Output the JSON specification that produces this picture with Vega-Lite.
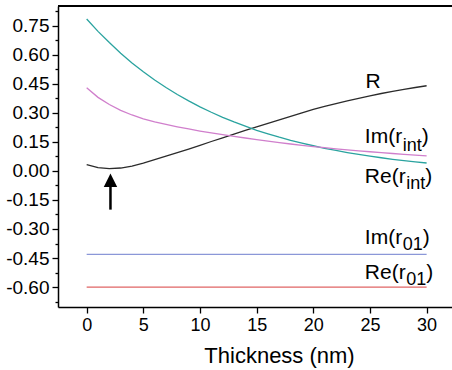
{
  "$schema": "https://vega.github.io/schema/vega-lite/v6.json",
  "width": 394,
  "height": 301,
  "autosize": {"type": "none"},
  "padding": {"left": 58, "top": 6, "right": 0, "bottom": 63},
  "background": "white",
  "config": {
    "view": {"stroke": null},
    "font": "Liberation Sans",
    "axis": {"grid": false, "domainColor": "black", "domainWidth": 1.5, "tickColor": "black", "tickWidth": 1.3, "labelColor": "black", "titleColor": "black", "labelFont": "Liberation Sans", "titleFont": "Liberation Sans", "titleFontWeight": "normal", "labelOverlap": false}
  },
  "resolve": {"axis": {"y": "independent"}},
  "datasets": {
    "curves": [
      {"x": 0, "v": 0.033, "s": "R"}, {"x": 1, "v": 0.017, "s": "R"}, {"x": 2, "v": 0.012, "s": "R"}, {"x": 3, "v": 0.015, "s": "R"}, {"x": 4, "v": 0.025, "s": "R"}, {"x": 5, "v": 0.040, "s": "R"}, {"x": 6, "v": 0.058, "s": "R"}, {"x": 7, "v": 0.076, "s": "R"}, {"x": 8, "v": 0.095, "s": "R"}, {"x": 9, "v": 0.113, "s": "R"}, {"x": 10, "v": 0.132, "s": "R"}, {"x": 11, "v": 0.152, "s": "R"}, {"x": 12, "v": 0.171, "s": "R"}, {"x": 13, "v": 0.190, "s": "R"}, {"x": 14, "v": 0.209, "s": "R"}, {"x": 15, "v": 0.228, "s": "R"}, {"x": 16, "v": 0.246, "s": "R"}, {"x": 17, "v": 0.264, "s": "R"}, {"x": 18, "v": 0.282, "s": "R"}, {"x": 19, "v": 0.300, "s": "R"}, {"x": 20, "v": 0.318, "s": "R"}, {"x": 21, "v": 0.333, "s": "R"}, {"x": 22, "v": 0.348, "s": "R"}, {"x": 23, "v": 0.362, "s": "R"}, {"x": 24, "v": 0.375, "s": "R"}, {"x": 25, "v": 0.388, "s": "R"}, {"x": 26, "v": 0.400, "s": "R"}, {"x": 27, "v": 0.411, "s": "R"}, {"x": 28, "v": 0.421, "s": "R"}, {"x": 29, "v": 0.431, "s": "R"}, {"x": 30, "v": 0.440, "s": "R"},
      {"x": 0, "v": 0.785, "s": "Re(r_int)"}, {"x": 1, "v": 0.721, "s": "Re(r_int)"}, {"x": 2, "v": 0.663, "s": "Re(r_int)"}, {"x": 3, "v": 0.608, "s": "Re(r_int)"}, {"x": 4, "v": 0.558, "s": "Re(r_int)"}, {"x": 5, "v": 0.512, "s": "Re(r_int)"}, {"x": 6, "v": 0.470, "s": "Re(r_int)"}, {"x": 7, "v": 0.431, "s": "Re(r_int)"}, {"x": 8, "v": 0.395, "s": "Re(r_int)"}, {"x": 9, "v": 0.362, "s": "Re(r_int)"}, {"x": 10, "v": 0.331, "s": "Re(r_int)"}, {"x": 11, "v": 0.303, "s": "Re(r_int)"}, {"x": 12, "v": 0.277, "s": "Re(r_int)"}, {"x": 13, "v": 0.253, "s": "Re(r_int)"}, {"x": 14, "v": 0.231, "s": "Re(r_int)"}, {"x": 15, "v": 0.210, "s": "Re(r_int)"}, {"x": 16, "v": 0.192, "s": "Re(r_int)"}, {"x": 17, "v": 0.174, "s": "Re(r_int)"}, {"x": 18, "v": 0.158, "s": "Re(r_int)"}, {"x": 19, "v": 0.144, "s": "Re(r_int)"}, {"x": 20, "v": 0.130, "s": "Re(r_int)"}, {"x": 21, "v": 0.117, "s": "Re(r_int)"}, {"x": 22, "v": 0.106, "s": "Re(r_int)"}, {"x": 23, "v": 0.095, "s": "Re(r_int)"}, {"x": 24, "v": 0.085, "s": "Re(r_int)"}, {"x": 25, "v": 0.076, "s": "Re(r_int)"}, {"x": 26, "v": 0.068, "s": "Re(r_int)"}, {"x": 27, "v": 0.060, "s": "Re(r_int)"}, {"x": 28, "v": 0.053, "s": "Re(r_int)"}, {"x": 29, "v": 0.047, "s": "Re(r_int)"}, {"x": 30, "v": 0.041, "s": "Re(r_int)"},
      {"x": 0, "v": 0.430, "s": "Im(r_int)"}, {"x": 1, "v": 0.380, "s": "Im(r_int)"}, {"x": 2, "v": 0.343, "s": "Im(r_int)"}, {"x": 3, "v": 0.313, "s": "Im(r_int)"}, {"x": 4, "v": 0.289, "s": "Im(r_int)"}, {"x": 5, "v": 0.269, "s": "Im(r_int)"}, {"x": 6, "v": 0.253, "s": "Im(r_int)"}, {"x": 7, "v": 0.240, "s": "Im(r_int)"}, {"x": 8, "v": 0.228, "s": "Im(r_int)"}, {"x": 9, "v": 0.217, "s": "Im(r_int)"}, {"x": 10, "v": 0.206, "s": "Im(r_int)"}, {"x": 11, "v": 0.196, "s": "Im(r_int)"}, {"x": 12, "v": 0.187, "s": "Im(r_int)"}, {"x": 13, "v": 0.178, "s": "Im(r_int)"}, {"x": 14, "v": 0.170, "s": "Im(r_int)"}, {"x": 15, "v": 0.162, "s": "Im(r_int)"}, {"x": 16, "v": 0.154, "s": "Im(r_int)"}, {"x": 17, "v": 0.146, "s": "Im(r_int)"}, {"x": 18, "v": 0.139, "s": "Im(r_int)"}, {"x": 19, "v": 0.132, "s": "Im(r_int)"}, {"x": 20, "v": 0.126, "s": "Im(r_int)"}, {"x": 21, "v": 0.120, "s": "Im(r_int)"}, {"x": 22, "v": 0.114, "s": "Im(r_int)"}, {"x": 23, "v": 0.109, "s": "Im(r_int)"}, {"x": 24, "v": 0.104, "s": "Im(r_int)"}, {"x": 25, "v": 0.099, "s": "Im(r_int)"}, {"x": 26, "v": 0.095, "s": "Im(r_int)"}, {"x": 27, "v": 0.090, "s": "Im(r_int)"}, {"x": 28, "v": 0.086, "s": "Im(r_int)"}, {"x": 29, "v": 0.082, "s": "Im(r_int)"}, {"x": 30, "v": 0.078, "s": "Im(r_int)"}
    ],
    "flat": [
      {"x": 0, "v": -0.431, "s": "Im(r01)"}, {"x": 30, "v": -0.431, "s": "Im(r01)"},
      {"x": 0, "v": -0.600, "s": "Re(r01)"}, {"x": 30, "v": -0.600, "s": "Re(r01)"}
    ],
    "labels": [
      {"x": 24.6, "y": 0.429, "t": "R", "k": "main"},
      {"x": 24.55, "y": 0.142, "t": "Im(r", "k": "main"},
      {"x": 27.89, "y": 0.104, "t": "int", "k": "sub"},
      {"x": 29.57, "y": 0.142, "t": ")", "k": "main"},
      {"x": 24.55, "y": -0.062, "t": "Re(r", "k": "main"},
      {"x": 28.2, "y": -0.094, "t": "int", "k": "sub"},
      {"x": 29.88, "y": -0.062, "t": ")", "k": "main"},
      {"x": 24.55, "y": -0.376, "t": "Im(r", "k": "main"},
      {"x": 27.89, "y": -0.407, "t": "01", "k": "sub"},
      {"x": 29.66, "y": -0.376, "t": ")", "k": "main"},
      {"x": 24.55, "y": -0.557, "t": "Re(r", "k": "main"},
      {"x": 28.2, "y": -0.591, "t": "01", "k": "sub"},
      {"x": 29.97, "y": -0.557, "t": ")", "k": "main"}
    ],
    "arrow": [{"x": 2.1, "y": -0.2, "y2": -0.08, "tip": -0.048}]
  },
  "layer": [
    {
      "data": {"name": "curves"},
      "mark": {"type": "line", "strokeWidth": 1.3},
      "encoding": {
        "x": {"field": "x", "type": "quantitative", "scale": {"domain": [-2.53, 32.24], "nice": false, "zero": false},
          "axis": {"values": [0, 2.5, 5, 7.5, 10, 12.5, 15, 17.5, 20, 22.5, 25, 27.5, 30],
            "labelExpr": "datum.value % 5 === 0 ? format(datum.value, 'd') : ''",
            "tickSize": {"condition": {"test": "datum.value % 5 === 0", "value": 6}, "value": 3},
            "labelFontSize": 18, "labelPadding": 3, "labelFlush": false,
            "title": "Thickness (nm)", "titleFontSize": 22, "titleX": 221, "titleY": 55, "titleAlign": "center", "titleBaseline": "alphabetic", "titleAnchor": null}},
        "y": {"field": "v", "type": "quantitative", "scale": {"domain": [-0.703, 0.852], "nice": false, "zero": false},
          "axis": {"orient": "left", "values": [-0.6, -0.45, -0.3, -0.15, 0, 0.15, 0.3, 0.45, 0.6, 0.75],
            "format": ".2f",
            "labelExpr": "replace(datum.label, '\u2212', '-')",
            "tickSize": 6,
            "labelFontSize": 19, "labelPadding": 3, "labelFlush": false, "title": null}},
        "color": {"field": "s", "type": "nominal", "legend": null,
          "scale": {"domain": ["R", "Re(r_int)", "Im(r_int)", "Im(r01)", "Re(r01)"], "range": ["#2b2b2b", "#2aa39f", "#d07fcc", "#8b97d8", "#e06464"]}}
      }
    },
    {
      "data": {"name": "flat"},
      "mark": {"type": "line", "strokeWidth": 1.3},
      "encoding": {
        "x": {"field": "x", "type": "quantitative"},
        "y": {"field": "v", "type": "quantitative",
          "axis": {"orient": "left", "values": [-0.675, -0.525, -0.375, -0.225, -0.075, 0.075, 0.225, 0.375, 0.525, 0.675, 0.825],
            "labels": false, "domain": false, "tickSize": 3, "title": null}},
        "color": {"field": "s", "type": "nominal", "legend": null}
      }
    },
    {
      "data": {"values": [{}]},
      "mark": {"type": "rule", "color": "black", "strokeWidth": 2},
      "encoding": {"y": {"datum": 0.852, "axis": null}}
    },
    {
      "data": {"name": "arrow"},
      "mark": {"type": "rule", "color": "black", "strokeWidth": 2.5},
      "encoding": {"x": {"field": "x", "type": "quantitative"}, "y": {"field": "y", "type": "quantitative", "axis": null}, "y2": {"field": "y2"}}
    },
    {
      "data": {"name": "arrow"},
      "mark": {"type": "point", "filled": true, "color": "black", "opacity": 1, "shape": "M-1,1L0,-1L1,1Z", "size": 180},
      "encoding": {"x": {"field": "x", "type": "quantitative"}, "y": {"field": "tip", "type": "quantitative", "axis": null}}
    },
    {
      "data": {"name": "labels"},
      "transform": [{"filter": "datum.k === 'main'"}],
      "mark": {"type": "text", "fontSize": 21, "align": "left", "baseline": "alphabetic", "color": "black", "font": "Liberation Sans"},
      "encoding": {"x": {"field": "x", "type": "quantitative"}, "y": {"field": "y", "type": "quantitative", "axis": null}, "text": {"field": "t"}}
    },
    {
      "data": {"name": "labels"},
      "transform": [{"filter": "datum.k === 'sub'"}],
      "mark": {"type": "text", "fontSize": 18, "align": "left", "baseline": "alphabetic", "color": "black", "font": "Liberation Sans"},
      "encoding": {"x": {"field": "x", "type": "quantitative"}, "y": {"field": "y", "type": "quantitative", "axis": null}, "text": {"field": "t"}}
    }
  ]
}
